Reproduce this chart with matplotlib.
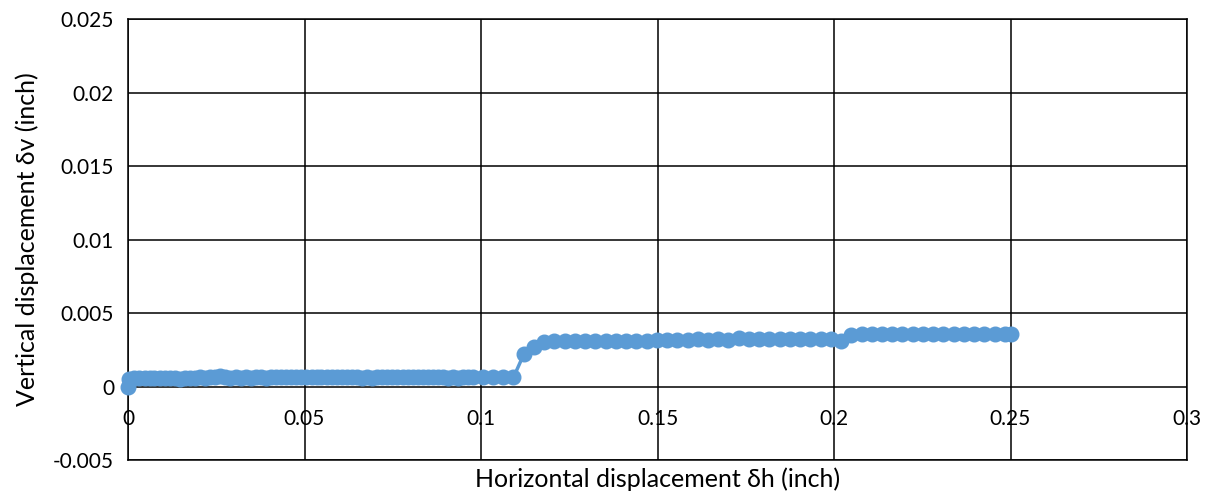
import matplotlib
matplotlib.use("Agg")
import matplotlib.pyplot as plt

plt.rcParams['font.family'] = ['Lato', 'DejaVu Sans']

# Horizontal displacement (inch)
dh = [
    0.0000, 0.0004, 0.0018, 0.0032, 0.0047, 0.0061, 0.0075, 0.0090, 0.0104, 0.0118,
    0.0133, 0.0147, 0.0161, 0.0176, 0.0190, 0.0204, 0.0219, 0.0233, 0.0247, 0.0262,
    0.0276, 0.0290, 0.0305, 0.0319, 0.0333, 0.0348, 0.0362, 0.0376, 0.0391, 0.0405,
    0.0419, 0.0434, 0.0448, 0.0462, 0.0477, 0.0491, 0.0505, 0.0520, 0.0534, 0.0548,
    0.0563, 0.0577, 0.0591, 0.0606, 0.0620, 0.0634, 0.0649, 0.0663, 0.0677, 0.0692,
    0.0706, 0.0720, 0.0735, 0.0749, 0.0763, 0.0778, 0.0792, 0.0806, 0.0821, 0.0835,
    0.0849, 0.0864, 0.0878, 0.0892, 0.0907, 0.0921, 0.0935, 0.0950, 0.0964, 0.0978,
    0.1005, 0.1034, 0.1063, 0.1092, 0.1121, 0.1150, 0.1179, 0.1208, 0.1237, 0.1266,
    0.1295, 0.1324, 0.1353, 0.1382, 0.1411, 0.1440, 0.1469, 0.1498, 0.1527, 0.1556,
    0.1585, 0.1614, 0.1643, 0.1672, 0.1701, 0.1730, 0.1759, 0.1788, 0.1817, 0.1846,
    0.1875, 0.1904, 0.1933, 0.1962, 0.1991, 0.2020, 0.2049, 0.2078, 0.2107, 0.2136,
    0.2165, 0.2194, 0.2223, 0.2252, 0.2281, 0.2310, 0.2339, 0.2368, 0.2397, 0.2426,
    0.2455, 0.2484, 0.2500,
]

# Vertical displacement (inch)
dv = [
    0.00000, 0.00052, 0.00055, 0.00056, 0.00058, 0.00056, 0.00060, 0.00058, 0.00056, 0.00060,
    0.00058, 0.00054, 0.00056, 0.00058, 0.00060, 0.00062, 0.00060, 0.00064, 0.00066, 0.00070,
    0.00062, 0.00060, 0.00062, 0.00060, 0.00062, 0.00060, 0.00062, 0.00064, 0.00060, 0.00062,
    0.00064, 0.00062, 0.00066, 0.00064, 0.00062, 0.00064, 0.00062, 0.00064, 0.00062, 0.00064,
    0.00066, 0.00064, 0.00062, 0.00064, 0.00066, 0.00064, 0.00062, 0.00060, 0.00062, 0.00060,
    0.00062, 0.00064, 0.00062, 0.00064, 0.00066, 0.00064, 0.00066, 0.00068, 0.00064, 0.00062,
    0.00064, 0.00066, 0.00064, 0.00062, 0.00060, 0.00062, 0.00060, 0.00062, 0.00064, 0.00062,
    0.00064, 0.00062, 0.00062, 0.00062, 0.00218, 0.00270, 0.00300, 0.00310, 0.00310, 0.00312,
    0.00312, 0.00310, 0.00312, 0.00310, 0.00312, 0.00310, 0.00312, 0.00315, 0.00315, 0.00318,
    0.00318, 0.00320, 0.00318, 0.00320, 0.00318, 0.00330, 0.00320, 0.00322, 0.00320, 0.00322,
    0.00320, 0.00322, 0.00320, 0.00322, 0.00322, 0.00312, 0.00350, 0.00355, 0.00355, 0.00355,
    0.00355, 0.00355, 0.00358, 0.00355, 0.00355, 0.00358, 0.00355, 0.00358, 0.00358, 0.00355,
    0.00358, 0.00358, 0.00360,
]

x_ticks = [0, 0.05, 0.1, 0.15, 0.2, 0.25, 0.3]
x_tick_labels = ["0", "0.05", "0.1", "0.15", "0.2", "0.25", "0.3"]
y_ticks = [-0.005, 0, 0.005, 0.01, 0.015, 0.02, 0.025]
y_tick_labels = ["-0.005", "0", "0.005", "0.01", "0.015", "0.02", "0.025"]

blue = "#5B9BD5"
fs = 15
title_fs = 18

fig = plt.figure(figsize=(12.12, 4.98), dpi=100)
ax = fig.add_axes([128 / 1212, 38 / 498, 1059 / 1212, 441 / 498])

ax.plot(dh, dv, color=blue, lw=2.5, marker="o", markersize=10.5,
        markerfacecolor=blue, markeredgecolor=blue, zorder=3, clip_on=False)

ax.set_xlim(0, 0.3)
ax.set_ylim(-0.005, 0.025)
ax.set_xticks(x_ticks)
ax.set_yticks(y_ticks)
ax.set_yticklabels(y_tick_labels, fontsize=fs)
ax.set_xticklabels([])
ax.tick_params(axis="both", length=0)
ax.tick_params(axis="y", pad=10)

ax.grid(True, color="black", lw=1.1)
ax.set_axisbelow(True)
for sp in ax.spines.values():
    sp.set_color("black")
    sp.set_linewidth(1.1)

# x tick labels sit just below the zero line, inside the plot area
for xv, lbl in zip(x_ticks, x_tick_labels):
    ax.annotate(lbl, (xv, 0), xytext=(0, -22), textcoords="offset pixels",
                ha="center", va="top", fontsize=fs, annotation_clip=False, zorder=1)

ax.set_xlabel("Horizontal displacement δh (inch)", fontsize=title_fs, labelpad=2)
ax.set_ylabel("Vertical displacement δv (inch)", fontsize=title_fs, labelpad=10)

fig.savefig("out.png", dpi=100)
